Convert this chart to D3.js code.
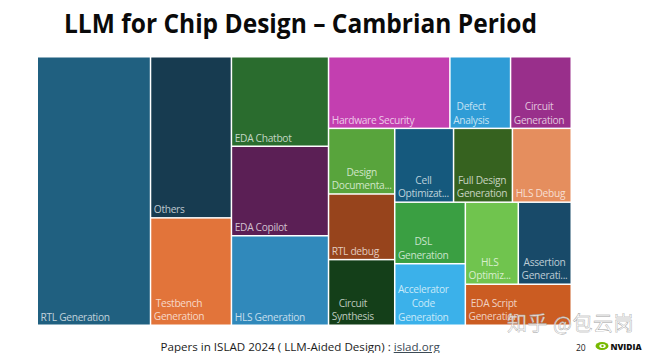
<!DOCTYPE html>
<html>
<head>
<meta charset="utf-8">
<script src="https://cdn.jsdelivr.net/npm/d3@7"></script>
<style>
  html, body { margin: 0; padding: 0; background: #fff; }
  svg { display: block; }
  text { font-family: "Open Sans", "Noto Sans", sans-serif; }
</style>
</head>
<body>
<div id="chart"></div>
<script>
// Treemap of LLM-aided design papers, counts
const categories = [
  'RTL Generation', 'Others', 'Testbench Generation', 'EDA Chatbot', 'EDA Copilot',
  'HLS Generation', 'Hardware Security', 'Defect Analysis', 'Circuit Generation',
  'Design Documenta...', 'RTL debug', 'Circuit Synthesis', 'Cell Optimizat...',
  'Full Design Generation', 'HLS Debug', 'DSL Generation', 'Accelerator Code Generation',
  'HLS Optimiz...', 'Assertion Generati...', 'EDA Script Generation'
];
const paperCounts = [28, 12, 8, 8, 8, 8, 8, 4, 4, 4, 4, 4, 4, 4, 4, 4, 4, 4, 4, 4];
const labelLines = [
  ['RTL Generation'], ['Others'], ['Testbench', 'Generation'], ['EDA Chatbot'], ['EDA Copilot'],
  ['HLS Generation'], ['Hardware Security'], ['Defect', 'Analysis'], ['Circuit', 'Generation'],
  ['Design', 'Documenta...'], ['RTL debug'], ['Circuit', 'Synthesis'], ['Cell', 'Optimizat...'],
  ['Full Design', 'Generation'], ['HLS Debug'], ['DSL', 'Generation'], ['Accelerator', 'Code', 'Generation'],
  ['HLS', 'Optimiz...'], ['Assertion', 'Generati...'], ['EDA Script', 'Generation']
];
const fillColors = [
  '#206080', '#173b50', '#e2743a', '#2a6c2e', '#5b1f55',
  '#3089bb', '#c33fb0', '#2f9cd6', '#992f8b',
  '#58a43c', '#97441c', '#143f19', '#15597d',
  '#36621f', '#e58e5e', '#3a9f42', '#3bb1ea',
  '#70c44e', '#184a69', '#cb5c22'
];
// How the cells nest, by category index. Levels alternate columns and rows.
const nesting = [
  0,
  [1, 2],
  [3, 4, 5],
  [
    [6, 7, 8],
    [
      [9, 10, 11],
      [
        [12, 13, 14],
        [
          [15, 16],
          [[17, 18], 19]
        ]
      ]
    ]
  ]
];

const width = 647;
const height = 353;
const frame = { x: 38, y: 57.5, w: 532.5, h: 267 };

const svg = d3.select('#chart')
  .append('svg')
  .attr('width', width)
  .attr('height', height)
  .attr('viewBox', `0 0 ${width} ${height}`);

svg.append('text')
  .attr('x', 64)
  .attr('y', 33)
  .attr('textLength', 473)
  .attr('lengthAdjust', 'spacingAndGlyphs')
  .style('font-size', '27px')
  .style('font-weight', 700)
  .style('fill', '#0a0a0a')
  .text('LLM for Chip Design – Cambrian Period');

// Layout
const toNode = n => Array.isArray(n)
  ? { children: n.map(toNode) }
  : { name: categories[n], value: paperCounts[n], lines: labelLines[n], color: fillColors[n] };

const root = d3.hierarchy(toNode(nesting)).sum(d => d.value || 0);

d3.treemap()
  .tile((node, x0, y0, x1, y1) =>
    (node.depth % 2 ? d3.treemapSlice : d3.treemapDice)(node, x0, y0, x1, y1))
  .size([frame.w, frame.h])
  .paddingInner(1.5)(root);

const cells = svg.append('g')
  .attr('transform', `translate(${frame.x}, ${frame.y})`)
  .selectAll('g')
  .data(root.leaves())
  .join('g')
  .attr('transform', d => `translate(${d.x0}, ${d.y0})`);

cells.append('rect')
  .attr('width', d => d.x1 - d.x0)
  .attr('height', d => d.y1 - d.y0)
  .attr('fill', d => d.data.color);

// Labels: lines centred on each other, the block sits bottom left
const lineHeight = 13.7;
cells.each(function (d) {
  const g = d3.select(this);
  const color = d3.interpolateRgb(d.data.color, '#ffffff')(0.72);
  const texts = d.data.lines.map((line, i) => g.append('text')
    .attr('y', d.y1 - d.y0 - 4 - (d.data.lines.length - 1 - i) * lineHeight)
    .attr('text-anchor', 'middle')
    .style('font-size', '10.2px')
    .style('letter-spacing', '-0.3px')
    .style('fill', color)
    .text(line));
  const widest = d3.max(texts, t => t.node().getComputedTextLength());
  texts.forEach(t => t.attr('x', 2.5 + widest / 2));
});

// Footer
const footer = svg.append('text')
  .attr('x', 160.5)
  .attr('y', 351)
  .style('font-size', '11.6px')
  .style('fill', '#1c1c1c');
footer.append('tspan').text('Papers in ISLAD 2024 ( LLM-Aided Design) : ');
footer.append('tspan').style('text-decoration', 'underline').style('fill', '#3c4a55').text('islad.org');

svg.append('text')
  .attr('x', 576)
  .attr('y', 350.5)
  .style('font-size', '8.5px')
  .style('fill', '#222')
  .text('20');

// Watermark
svg.append('text')
  .attr('x', 507)
  .attr('y', 331)
  .style('font-family', '"Noto Sans CJK SC", sans-serif')
  .style('font-size', '20px')
  .style('letter-spacing', '0.5px')
  .style('fill', '#ffffff')
  .style('fill-opacity', 0.8)
  .style('stroke', '#9a9a9a')
  .style('stroke-width', 0.4)
  .text('知乎 @包云岗');

// NVIDIA logo
const logo = svg.append('g').attr('transform', 'translate(596, 346)');
logo.append('ellipse').attr('cx', 6).attr('cy', 0).attr('rx', 6.5).attr('ry', 4).attr('fill', '#76b900');
logo.append('ellipse').attr('cx', 6.5).attr('cy', 0).attr('rx', 3.2).attr('ry', 2).attr('fill', '#ffffff');
logo.append('circle').attr('cx', 6.5).attr('cy', 0).attr('r', 1.2).attr('fill', '#76b900');
logo.append('text')
  .attr('x', 14.5)
  .attr('y', 3.5)
  .attr('textLength', 31)
  .attr('lengthAdjust', 'spacingAndGlyphs')
  .style('font-size', '9.5px')
  .style('font-weight', 800)
  .style('fill', '#111')
  .text('NVIDIA');
</script>
</body>
</html>
